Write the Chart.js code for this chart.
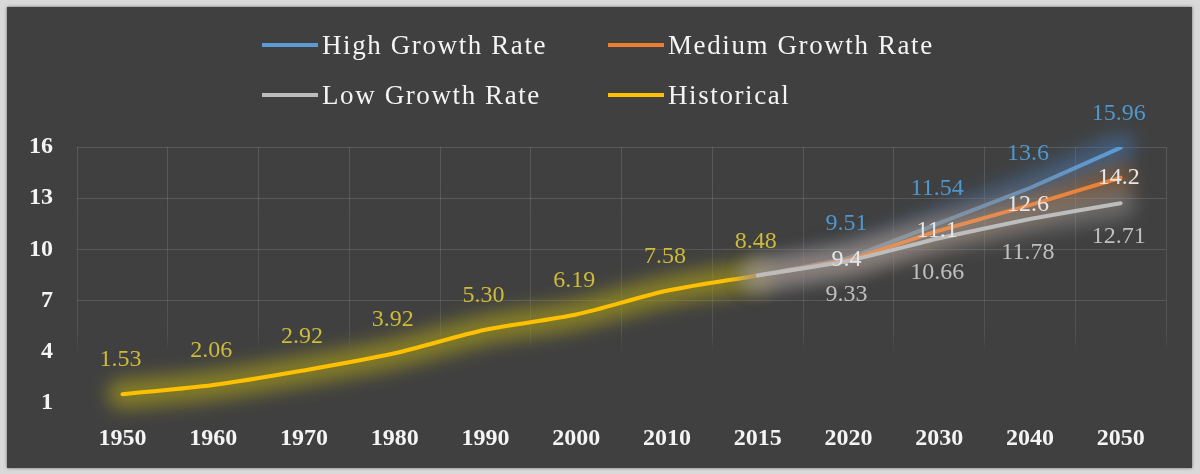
<!DOCTYPE html>
<html>
<head>
<meta charset="utf-8">
<script src="https://cdn.jsdelivr.net/npm/chart.js@4.4.0/dist/chart.umd.min.js"></script>
<style>
	html, body { margin: 0; padding: 0; background: #d9d9d9; }
	.panel { position: absolute; left: 7px; top: 7px; width: 1185px; height: 461px; background: #404040; box-shadow: 0 0 3px rgba(0,0,0,0.5); }
	#chartBox { position: absolute; left: 0; top: 0; width: 1200px; height: 474px; }
	.legend { position: absolute; left: 262px; top: 27px; display: grid; grid-template-columns: 346px 340px; row-gap: 14px;
		font-family: "Liberation Serif", "Times New Roman", serif; font-size: 27px; color: #f4f4f4; letter-spacing: 1.6px; }
	.legend div { display: flex; align-items: center; height: 36px; white-space: nowrap; }
	.legend span.swatch { display: inline-block; width: 56px; height: 4px; margin-right: 4px; }
</style>
</head>
<body>
<div class="panel"></div>
<div id="chartBox"><canvas id="growthChart" width="1200" height="474"></canvas></div>
<div class="legend" id="legend"></div>
<script>
const years = ["1950", "1960", "1970", "1980", "1990", "2000", "2010", "2015", "2020", "2030", "2040", "2050"];
const historical = [1.53, 2.06, 2.92, 3.92, 5.30, 6.19, 7.58, 8.48, null, null, null, null];
const highGrowth = [null, null, null, null, null, null, null, 8.48, 9.51, 11.54, 13.6, 15.96];
const mediumGrowth = [null, null, null, null, null, null, null, 8.48, 9.4, 11.1, 12.6, 14.2];
const lowGrowth = [null, null, null, null, null, null, null, 8.48, 9.33, 10.66, 11.78, 12.71];
const historicalText = ["1.53", "2.06", "2.92", "3.92", "5.30", "6.19", "7.58", "8.48", "", "", "", ""];
const highText = ["", "", "", "", "", "", "", "", "9.51", "11.54", "13.6", "15.96"];
const mediumText = ["", "", "", "", "", "", "", "", "9.4", "11.1", "12.6", "14.2"];
const lowText = ["", "", "", "", "", "", "", "", "9.33", "10.66", "11.78", "12.71"];
const yTicks = [1, 4, 7, 10, 13, 16];

const serif = "'Liberation Serif', 'Times New Roman', serif";

// legend is plain html so the two columns line up like the original
const legendItems = [
	{ name: "High Growth Rate", color: "#5b9bd5" },
	{ name: "Medium Growth Rate", color: "#ed7d31" },
	{ name: "Low Growth Rate", color: "#bdbdbd" },
	{ name: "Historical", color: "#ffc000" },
];
legendItems.forEach(item => {
	var row = document.createElement("div");
	row.innerHTML = `<span class="swatch" style="background:${item.color}"></span>${item.name}`;
	document.getElementById("legend").appendChild(row);
});

// wide blurred halo behind every line, then the line itself on top
const glowPlugin = {
	id: "glow",
	beforeDatasetDraw(chart, args) {
		const ds = chart.data.datasets[args.index];
		const line = args.meta.dataset;
		const c = chart.ctx;
		const keepColor = line.options.borderColor;
		const keepWidth = line.options.borderWidth;

		c.save();
		c.filter = "blur(9px)";
		line.options.borderColor = ds.glowColor;
		line.options.borderWidth = 30;
		line.draw(c, chart.chartArea);
		c.restore();

		line.options.borderColor = keepColor;
		line.options.borderWidth = keepWidth;
	},
};

// value labels, placed above / on / below the point
const valueLabels = {
	id: "valueLabels",
	afterDatasetsDraw(chart) {
		const c = chart.ctx;
		c.save();
		c.font = "24px " + serif;
		c.textAlign = "center";
		c.textBaseline = "middle";
		chart.data.datasets.forEach((ds, i) => {
			const meta = chart.getDatasetMeta(i);
			meta.data.forEach((pt, j) => {
				const txt = ds.valueText[j];
				if (!txt) return;
				c.fillStyle = ds.labelColor;
				c.fillText(txt, pt.x - 2, pt.y + ds.labelShift);
			});
		});
		c.restore();
	},
};

// vertical grid lines fade out towards the bottom, like the picture
function fadingGrid(context) {
	const area = context.chart.chartArea;
	if (!area) return "rgba(255, 255, 255, 0.13)";
	const g = context.chart.ctx.createLinearGradient(0, area.top, 0, area.bottom);
	g.addColorStop(0, "rgba(255, 255, 255, 0.13)");
	g.addColorStop(0.72, "rgba(255, 255, 255, 0.10)");
	g.addColorStop(0.8, "rgba(255, 255, 255, 0)");
	return g;
}

const ctx = document.getElementById("growthChart").getContext("2d");
const growthChart = new Chart(ctx, {
	type: "line",
	data: {
		labels: years,
		datasets: [{
			label: "Low Growth Rate",
			data: lowGrowth,
			valueText: lowText,
			borderColor: "#bdbdbd",
			glowColor: "rgba(200, 200, 200, 0.3)",
			labelColor: "#bfbfbf",
			labelShift: 34,
			tension: 0.1,
		}, {
			label: "Medium Growth Rate",
			data: mediumGrowth,
			valueText: mediumText,
			borderColor: "#ed7d31",
			glowColor: "rgba(170, 110, 60, 0.45)",
			labelColor: "#e6e6e6",
			labelShift: 0,
			tension: 0.1,
		}, {
			label: "High Growth Rate",
			data: highGrowth,
			valueText: highText,
			borderColor: "#5b9bd5",
			glowColor: "rgba(70, 120, 180, 0.5)",
			labelColor: "#4f97cf",
			labelShift: -34,
			tension: 0.1,
		}, {
			label: "Historical",
			data: historical,
			valueText: historicalText,
			borderColor: "#ffc000",
			glowColor: "rgba(160, 150, 30, 0.7)",
			labelColor: "#cdbb3a",
			labelShift: -34,
			tension: 0.3,
		}],
	},
	options: {
		responsive: false,
		animation: false,
		layout: { padding: { left: 5, right: 34, top: 147, bottom: 0 } },
		elements: {
			line: { borderWidth: 4, borderCapStyle: "round" },
			point: { radius: 0 },
		},
		plugins: {
			legend: { display: false },
			tooltip: { enabled: false },
		},
		scales: {
			x: {
				offset: true,
				grid: { color: fadingGrid, drawTicks: false, offset: true },
				border: { display: false },
				ticks: { color: "#f4f4f4", padding: 21, font: { family: serif, size: 24, weight: "bold" } },
			},
			y: {
				min: 1,
				max: 16,
				afterBuildTicks: axis => { axis.ticks = yTicks.map(v => ({ value: v })); },
				grid: {
					drawTicks: false,
					color: c => (c.tick && c.tick.value < 7 ? "rgba(0, 0, 0, 0)" : "rgba(255, 255, 255, 0.13)"),
				},
				border: { display: false },
				ticks: { color: "#f4f4f4", padding: 24, font: { family: serif, size: 24, weight: "bold" } },
			},
		},
	},
	plugins: [glowPlugin, valueLabels],
});
</script>
</body>
</html>
